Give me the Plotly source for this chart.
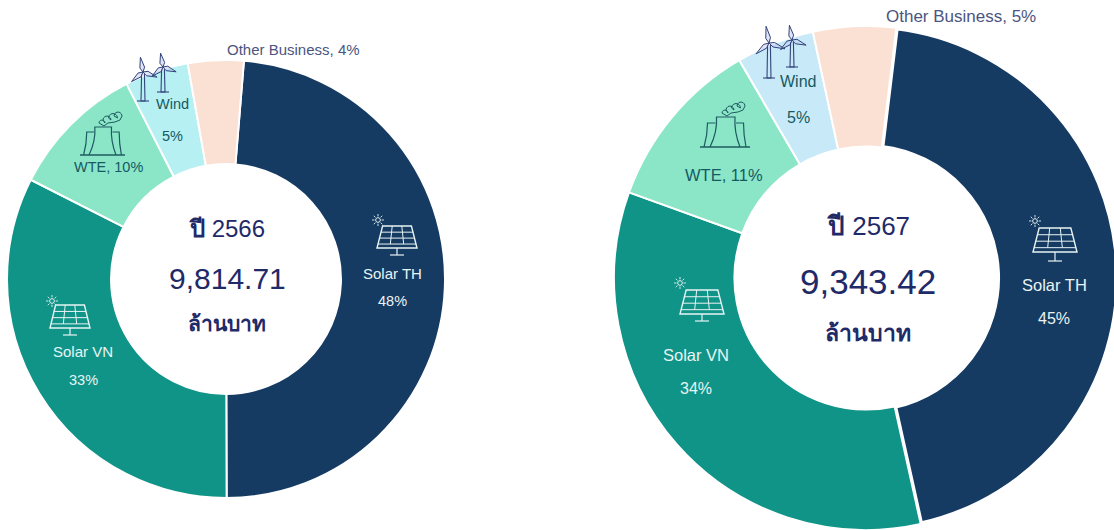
import math
import plotly.graph_objects as go

W, H = 1118, 530
categories = ["Solar TH", "Solar VN", "WTE", "Wind", "Other Business"]
values_2566 = [48.6, 32.5, 10.0, 4.7, 4.1]
values_2567 = [44.6, 34.0, 11.1, 5.0, 5.3]
colors_2566 = ["#163B63", "#109488", "#8BE6C8", "#B6F0F2", "#FBE0D4"]
colors_2567 = ["#163B63", "#109488", "#8BE6C8", "#C8EAF8", "#FBE0D4"]
line_2566 = [2, 2, 2, 2, 2]
line_2567 = [5, 2, 2, 2, 2]
NAVY = "#1F2A68"
LABEL = "#155A62"
FONT = "Liberation Sans, Noto Sans, Noto Sans CJK SC, sans-serif"

px = lambda x: x / W
py = lambda y: 1 - y / H

fig = go.Figure()
def dom(x0, x1, y0, y1):
    return dict(x=[px(x0), px(x1)], y=[py(y1), py(y0)])

fig.add_trace(go.Pie(labels=categories, values=values_2566, hole=0.525, sort=False,
                     direction="clockwise", rotation=4.7, textinfo="none", showlegend=False,
                     marker=dict(colors=colors_2566, line=dict(color="white", width=line_2566)),
                     domain=dom(7, 445, 60, 498)))
fig.add_trace(go.Pie(labels=categories, values=values_2567, hole=0.522, sort=False,
                     direction="clockwise", rotation=6.9, textinfo="none", showlegend=False,
                     marker=dict(colors=colors_2567, line=dict(color="white", width=line_2567)),
                     domain=dom(614, 1118, 26, 530)))

shapes = []
def P(x, y):
    return f"{px(x):.5f},{py(y):.5f}"
def seg(pts, close=False):
    return "M" + " L".join(P(*p) for p in pts) + (" Z" if close else "")
def add(path, color, width=1.2, fill=None):
    d = dict(type="path", xref="paper", yref="paper", path=path,
             line=dict(color=color, width=width), layer="above")
    if fill:
        d["fillcolor"] = fill
    shapes.append(d)

def solar(x0, x1, y0, y1, stand, sx, sy, color="#E8F4F4"):
    w = x1 - x0
    inset = w * 0.14
    band = (y1 - y0) * 0.82
    L = lambda t: x0 + inset * (1 - t)
    R = lambda t: x1 - inset * (1 - t)
    add(seg([(L(0), y0), (R(0), y0), (R(1), y1), (L(1), y1)], True), color, 1.4)
    for f in (0.28, 0.55, 0.82):
        yy = y0 + (y1 - y0) * f
        add(seg([(L(f), yy), (R(f), yy)]), color, 1)
    for f in (1 / 3, 2 / 3):
        add(seg([(x0 + inset + (w - 2 * inset) * f, y0),
                 (x0 + w * f, y0 + band)]), color, 1)
    cx = (x0 + x1) / 2
    add(seg([(cx, y1), (cx, stand)]), color)
    add(seg([(cx - 7, stand), (cx + 7, stand)]), color)
    r = 2.4
    add(seg([(sx + r * math.cos(a * math.pi / 4), sy + r * math.sin(a * math.pi / 4)) for a in range(8)], True), color, 1)
    for a in range(8):
        c, s = math.cos(a * math.pi / 4), math.sin(a * math.pi / 4)
        add(seg([(sx + 3.6 * c, sy + 3.6 * s), (sx + 6 * c, sy + 6 * s)]), color, 0.9)

def turbine(x, hub, base, blade, color="#34447C"):
    add(seg([(x - 1.4, hub + 2), (x - 2, base), (x + 2, base), (x + 1.4, hub + 2)]), color, 1.1)
    add(seg([(x - 6, base), (x + 6, base)]), color, 1.1)
    for a in (-100, 20, 140):
        a2 = math.radians(a)
        tx, ty = x + blade * math.cos(a2), hub + blade * math.sin(a2)
        nx, ny = -math.sin(a2) * 2.4, math.cos(a2) * 2.4
        mx, my = x + blade * 0.3 * math.cos(a2), hub + blade * 0.3 * math.sin(a2)
        add(seg([(x, hub), (mx + nx, my + ny), (tx, ty), (mx - nx, my - ny)], True), color, 1, "rgba(190,200,235,0.5)")

def plant(x0, x1, base, top, side, smoke_x, smoke_y, color="#1F5A62"):
    w = x1 - x0
    add(seg([(x0, base), (x1, base)]), color, 1.4)
    a, b = x0 + w * 0.33, x0 + w * 0.70
    add(f"M{P(x0 + w * 0.2, base)} Q{P(a + 1, (base + top) / 2)} {P(a, top)} L{P(b, top)} "
        f"Q{P(b - 1, (base + top) / 2)} {P(x0 + w * 0.8, base)}", color)
    add(f"M{P(x0 + w * 0.08, base)} Q{P(x0 + w * 0.15, (base + side) / 2)} {P(x0 + w * 0.15, side)} L{P(x0 + w * 0.31, side)}", color)
    add(f"M{P(x0 + w * 0.92, base)} Q{P(x0 + w * 0.87, (base + side) / 2)} {P(x0 + w * 0.87, side)} L{P(x0 + w * 0.72, side)}", color)
    lobes = [(-9, 5, 3), (-4, 2, 4), (2, 0, 4.5), (7, -2, 4)]
    pts = []
    for dx, dy, r in lobes:
        pts += [(smoke_x + dx + r * math.cos(t * math.pi / 6), smoke_y + dy - r * abs(math.sin(t * math.pi / 6)))
                for t in range(7)][::-1] if False else [(smoke_x + dx + r * math.cos(math.pi - t * math.pi / 6),
                                                          smoke_y + dy - r * math.sin(math.pi - t * math.pi / 6))
                                                         for t in range(7)]
    pts += [(smoke_x + 9, smoke_y + 2), (smoke_x + 4, smoke_y + 4), (smoke_x - 3, smoke_y + 5), (smoke_x - 7, smoke_y + 8)]
    add(seg(pts, True), color, 1)

solar(377, 417, 226, 248, 255, 378, 220)
solar(1033, 1077, 228, 252, 261, 1035, 221)
solar(50, 90, 305, 328, 335, 52, 301)
solar(680, 724, 290, 314, 321, 680, 283)
turbine(143, 72, 101, 15)
turbine(163, 67, 92, 14)
turbine(769, 43, 78, 17)
turbine(792, 40, 67, 15)
plant(80, 125, 155, 127, 132, 111, 118)
plant(700, 750, 147, 117, 123, 734, 108)

text_items = [
    ("Other Business, 4%", 293, 50, 15, "#4B5580", False),
    ("Wind", 173, 104, 14.5, LABEL, False),
    ("5%", 173, 136, 14.5, LABEL, False),
    ("WTE, 10%", 108, 167, 14.5, LABEL, False),
    ("Solar TH", 392, 273, 15, "#E8F4F4", False),
    ("48%", 392, 301, 14.5, "#E8F4F4", False),
    ("Solar VN", 83, 351, 15, "#E8F4F4", False),
    ("33%", 83, 380, 14.5, "#E8F4F4", False),
    ("<b>ปี</b> 2566", 227, 228, 24, NAVY, False),
    ("9,814.71", 227, 278, 30, NAVY, False),
    ("ล้านบาท", 227, 323, 21, NAVY, True),
    ("Other Business, 5%", 961, 17, 17, "#4B5580", False),
    ("Wind", 798, 82, 16, LABEL, False),
    ("5%", 798, 118, 16, LABEL, False),
    ("WTE, 11%", 724, 175, 16.5, LABEL, False),
    ("Solar TH", 1054, 285, 16.5, "#E8F4F4", False),
    ("45%", 1054, 318, 16, "#E8F4F4", False),
    ("Solar VN", 696, 355, 16.5, "#E8F4F4", False),
    ("34%", 696, 388, 16, "#E8F4F4", False),
    ("<b>ปี</b> 2567", 868, 226, 26, NAVY, False),
    ("9,343.42", 868, 281, 35, NAVY, False),
    ("ล้านบาท", 868, 333, 23, NAVY, True),
]
annotations = [dict(text=f"<b>{t}</b>" if b else t, x=px(x), y=py(y), xref="paper", yref="paper",
                    showarrow=False, xanchor="center", yanchor="middle",
                    font=dict(size=s, color=c, family=FONT))
               for t, x, y, s, c, b in text_items]

fig.update_layout(width=W, height=H, margin=dict(l=0, r=0, t=0, b=0),
                  paper_bgcolor="white", plot_bgcolor="white",
                  shapes=shapes, annotations=annotations)
fig.write_html("out.html", config=dict(displayModeBar=False),
               post_script="document.body.style.margin='0';document.body.style.overflow='hidden';")
